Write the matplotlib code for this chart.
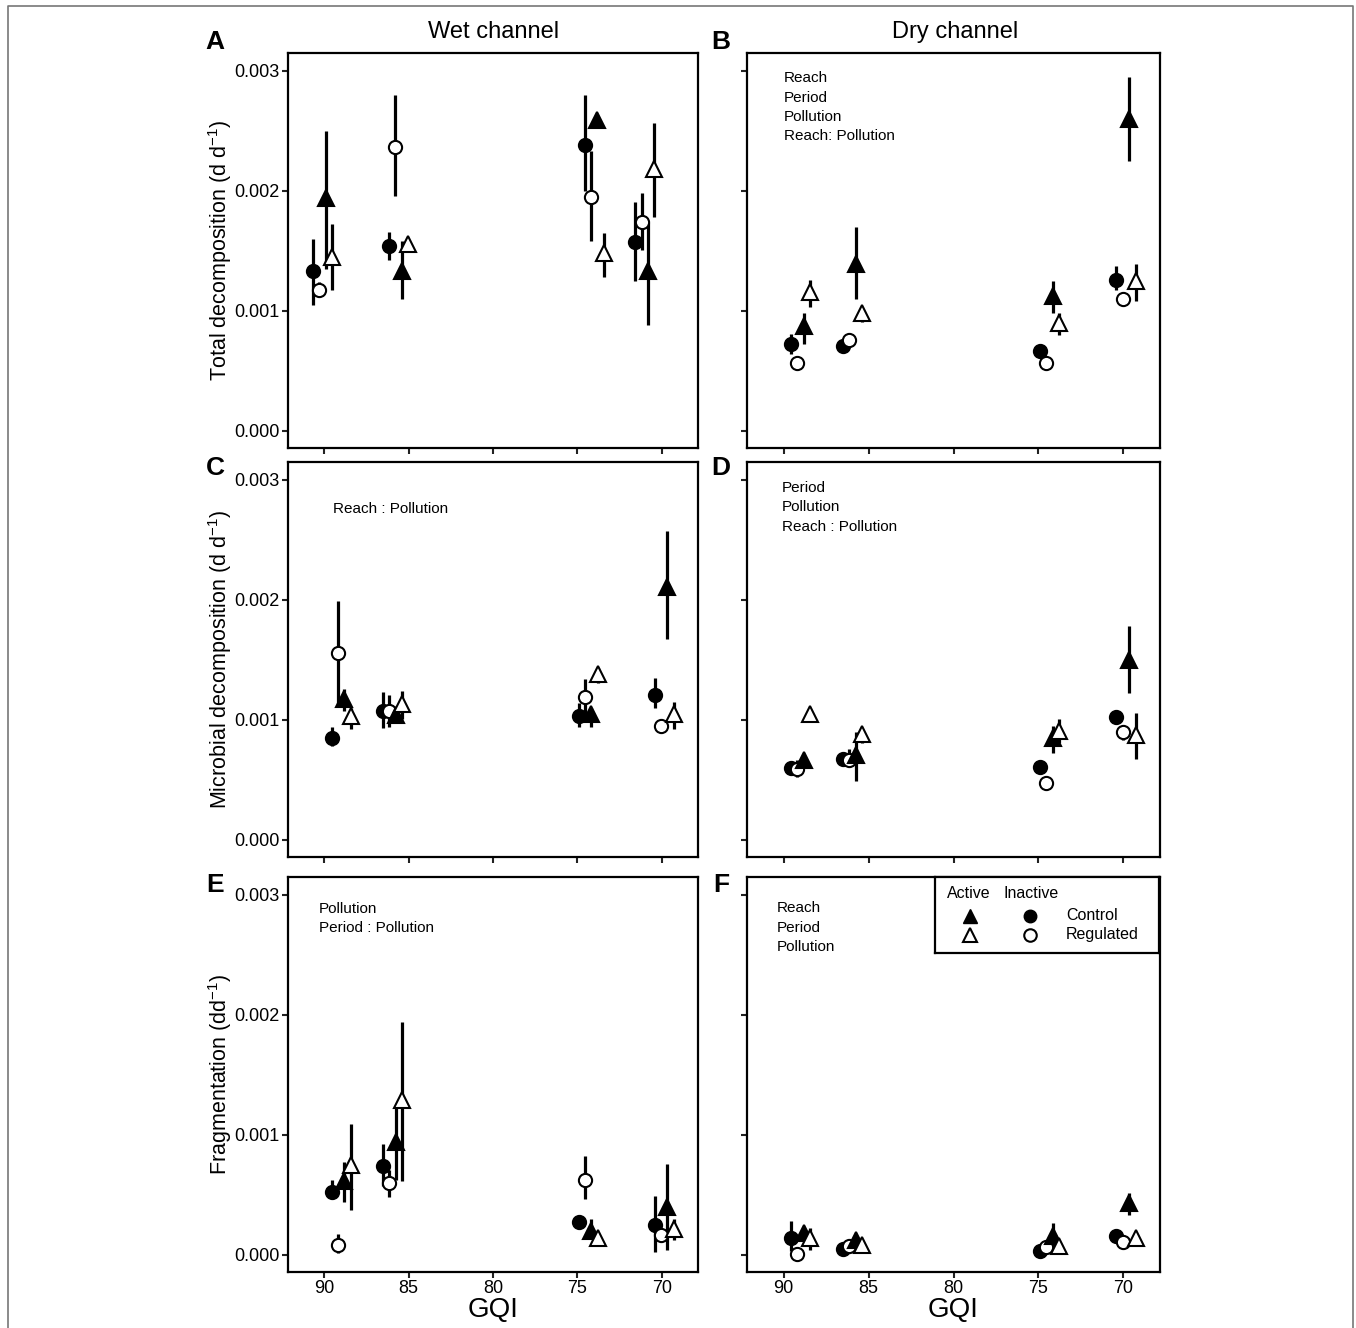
import numpy as np
import matplotlib
matplotlib.use('Agg')
from matplotlib import pyplot as plt
from matplotlib.lines import Line2D

plt.rcParams['font.family'] = ['Liberation Sans', 'DejaVu Sans']
plt.rcParams['mathtext.fontset'] = 'custom'
plt.rcParams['mathtext.rm'] = 'Liberation Sans'
plt.rcParams['mathtext.it'] = 'Liberation Sans:italic'

# site GQI values (total decomposition in the wet channel was sampled at other GQI)
gqi_total_wet = [90.1, 85.6, 74.0, 71.0]
gqi = [89.0, 85.95, 74.35, 69.85]

# series: CI = control/inactive, RI = regulated/inactive, CA = control/active, RA = regulated/active
# values in 1e-3 d d-1 : mean, lower, upper
A = {
    'CI': ([1.33, 1.54, 2.38, 1.57], [1.05, 1.42, 2.00, 1.25], [1.60, 1.66, 2.80, 1.91]),
    'RI': ([1.17, 2.37, 1.95, 1.74], [1.12, 1.96, 1.58, 1.51], [1.24, 2.80, 2.33, 1.98]),
    'CA': ([1.94, 1.33, 2.59, 1.33], [1.35, 1.10, 2.55, 0.88], [2.50, 1.58, 2.63, 1.73]),
    'RA': ([1.45, 1.56, 1.48, 2.18], [1.17, 1.51, 1.28, 1.78], [1.72, 1.58, 1.65, 2.57]),
}
B = {
    'CI': ([0.725, 0.705, 0.66, 1.26], [0.64, 0.68, 0.62, 1.17], [0.81, 0.73, 0.70, 1.37]),
    'RI': ([0.56, 0.755, 0.565, 1.10], [0.54, 0.73, 0.55, 1.07], [0.58, 0.78, 0.58, 1.13]),
    'CA': ([0.87, 1.39, 1.12, 2.60], [0.72, 1.10, 0.98, 2.25], [0.98, 1.70, 1.25, 2.95]),
    'RA': ([1.16, 0.98, 0.90, 1.25], [1.03, 0.91, 0.80, 1.08], [1.26, 1.00, 0.98, 1.39]),
}
C = {
    'CI': ([0.847, 1.07, 1.03, 1.21], [0.78, 0.93, 0.94, 1.10], [0.94, 1.23, 1.14, 1.35]),
    'RI': ([1.555, 1.07, 1.19, 0.944], [1.14, 0.94, 1.03, 0.92], [1.99, 1.21, 1.34, 0.98]),
    'CA': ([1.17, 1.04, 1.05, 2.11], [1.07, 0.99, 0.94, 1.67], [1.26, 1.10, 1.10, 2.575]),
    'RA': ([1.03, 1.13, 1.38, 1.05], [0.92, 1.01, 1.31, 0.92], [1.10, 1.24, 1.43, 1.15]),
}
D = {
    'CI': ([0.597, 0.675, 0.605, 1.02], [0.58, 0.66, 0.56, 0.99], [0.62, 0.69, 0.65, 1.05]),
    'RI': ([0.59, 0.66, 0.47, 0.897], [0.52, 0.62, 0.46, 0.83], [0.66, 0.76, 0.48, 0.94]),
    'CA': ([0.66, 0.71, 0.847, 1.50], [0.64, 0.49, 0.72, 1.22], [0.68, 0.90, 0.95, 1.78]),
    'RA': ([1.05, 0.88, 0.91, 0.87], [0.98, 0.81, 0.81, 0.67], [1.07, 0.90, 1.01, 1.06]),
}
E = {
    'CI': ([0.522, 0.74, 0.27, 0.245], [0.46, 0.57, 0.25, 0.02], [0.62, 0.925, 0.29, 0.49]),
    'RI': ([0.078, 0.60, 0.625, 0.167], [0.01, 0.48, 0.46, 0.14], [0.17, 0.71, 0.82, 0.19]),
    'CA': ([0.61, 0.936, 0.20, 0.394], [0.44, 0.62, 0.14, 0.04], [0.77, 1.25, 0.30, 0.76]),
    'RA': ([0.75, 1.29, 0.14, 0.214], [0.375, 0.61, 0.12, 0.125], [1.09, 1.94, 0.16, 0.30]),
}
F = {
    'CI': ([0.139, 0.047, 0.028, 0.153], [0.03, 0.03, 0.01, 0.13], [0.28, 0.06, 0.04, 0.18]),
    'RI': ([0.008, 0.075, 0.06, 0.106], [0.0, 0.06, 0.045, 0.09], [0.02, 0.09, 0.075, 0.12]),
    'CA': ([0.18, 0.12, 0.153, 0.43], [0.15, 0.10, 0.04, 0.33], [0.21, 0.14, 0.26, 0.51]),
    'RA': ([0.14, 0.083, 0.07, 0.139], [0.04, 0.07, 0.06, 0.12], [0.22, 0.10, 0.08, 0.16]),
}

effects = {
    'A': [],
    'B': ['Reach', 'Period', 'Pollution', 'Reach: Pollution'],
    'C': ['Reach : Pollution'],
    'D': ['Period', 'Pollution', 'Reach : Pollution'],
    'E': ['Pollution', 'Period : Pollution'],
    'F': ['Reach', 'Period', 'Pollution'],
}
ylabels = ['Total decomposition (d d$^{-1}$)',
           'Microbial decomposition (d d$^{-1}$)',
           'Fragmentation (dd$^{-1}$)']

# marker style + dodge offset (GQI units) per series
style = {
    'CI': dict(marker='o', mfc='black', ms=9.5, off=0.5625),
    'RI': dict(marker='o', mfc='white', ms=9.5, off=0.1875),
    'CA': dict(marker='^', mfc='black', ms=11, off=-0.1875),
    'RA': dict(marker='^', mfc='white', ms=11, off=-0.5625),
}

W, H = 1356, 1328
fig = plt.figure(figsize=(W / 100, H / 100), dpi=100)

# outer frame
fig.add_artist(Line2D([8 / W, 8 / W, 1353 / W, 1353 / W], [0, 1 - 6 / H, 1 - 6 / H, 0],
                      color='#777777', lw=1.2))

lefts = [288, 747]
widths = [410, 413]
tops = [53, 462, 877]
letter_y = [42, 468, 885]
letter_x = [215, 721]
hgt = 395

panels = [('A', A, gqi_total_wet), ('B', B, gqi), ('C', C, gqi),
          ('D', D, gqi), ('E', E, gqi), ('F', F, gqi)]

for i, (name, data, sites) in enumerate(panels):
    row, col = divmod(i, 2)
    ax = fig.add_axes([lefts[col] / W, 1 - (tops[row] + hgt) / H, widths[col] / W, hgt / H])
    for key in ['CI', 'RI', 'CA', 'RA']:
        m, lo, hi = (np.array(v) * 1e-3 for v in data[key])
        st = style[key]
        x = np.array(sites) + st['off']
        ax.vlines(x, lo, hi, color='black', lw=2.3, zorder=2)
        ax.plot(x, m, ls='none', marker=st['marker'], mfc=st['mfc'], mec='black',
                mew=1.5, ms=st['ms'], zorder=3)
    ax.set_xlim(92.15, 67.85)
    ax.set_ylim(-0.000145, 0.00315)
    ax.set_xticks([90, 85, 80, 75, 70])
    ax.set_yticks([0, 0.001, 0.002, 0.003])
    ax.tick_params(direction='out', length=4, width=1.5, color='#222222',
                   labelsize=13, pad=2)
    for s in ax.spines.values():
        s.set_linewidth(1.6)
    if col == 0:
        ax.set_yticklabels(['0.000', '0.001', '0.002', '0.003'])
        ax.set_ylabel(ylabels[row], fontsize=15.5, labelpad=0)
    else:
        ax.set_yticklabels([])
    if row == 2:
        ax.set_xticklabels(['90', '85', '80', '75', '70'])
        ax.set_xlabel('GQI', fontsize=20, labelpad=0)
    else:
        ax.set_xticklabels([])
    # panel letter
    fig.text(letter_x[col] / W, 1 - letter_y[row] / H, name,
             fontsize=19, fontweight='bold', ha='center', va='center')
    # significant effects
    tx = {'B': 784, 'C': 333, 'D': 782, 'E': 319, 'F': 777}.get(name)
    ty = {'B': 78, 'C': 509, 'D': 488, 'E': 909, 'F': 908}.get(name)
    for j, line in enumerate(effects[name]):
        fig.text(tx / W, 1 - (ty + j * 19.5) / H, line, fontsize=11,
                 ha='left', va='center')

fig.text(494 / W, 1 - 32 / H, 'Wet channel', fontsize=17, ha='center', va='center')
fig.text(955 / W, 1 - 32 / H, 'Dry channel', fontsize=17, ha='center', va='center')

# legend in panel F
axl = fig.add_axes([935 / W, 1 - 953 / H, (1159 - 935) / W, (953 - 877) / H])
axl.set_xlim(935, 1159)
axl.set_ylim(953, 877)
axl.set_xticks([])
axl.set_yticks([])
for s in axl.spines.values():
    s.set_linewidth(1.6)
axl.text(947, 894, 'Active', fontsize=11.5, va='center', ha='left')
axl.text(1003, 894, 'Inactive', fontsize=11.5, va='center', ha='left')
axl.plot([970], [916], ls='none', marker='^', mfc='black', mec='black', ms=10.5)
axl.plot([970], [935], ls='none', marker='^', mfc='white', mec='black', mew=1.5, ms=10.5)
axl.plot([1030], [916], ls='none', marker='o', mfc='black', mec='black', ms=9)
axl.plot([1030], [935], ls='none', marker='o', mfc='white', mec='black', mew=1.5, ms=9)
axl.text(1066, 915, 'Control', fontsize=11.5, va='center', ha='left')
axl.text(1066, 934, 'Regulated', fontsize=11.5, va='center', ha='left')

fig.savefig('out.png', dpi=100)
